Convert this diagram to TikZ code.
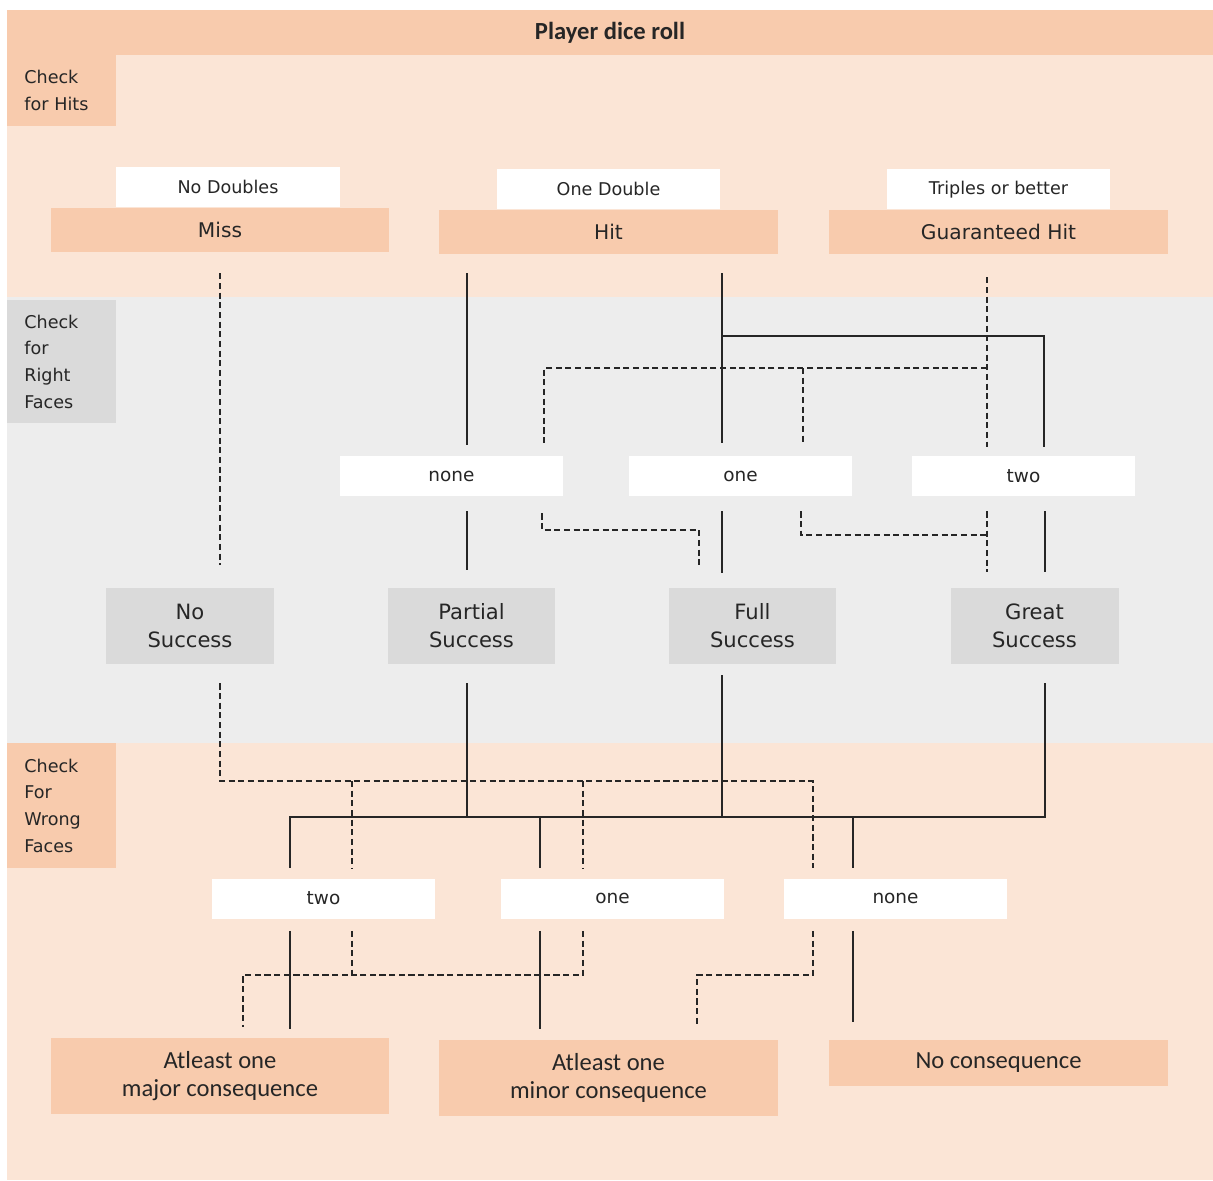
\documentclass[tikz,border=0pt]{standalone}
\usepackage{fontspec}
\setmainfont{DejaVu Sans}
\newfontfamily\calfont{Carlito}
\usetikzlibrary{positioning}

\definecolor{peachdark}{HTML}{F8CBAD}
\definecolor{peachlight}{HTML}{FBE5D6}
\definecolor{greylight}{HTML}{EDEDED}
\definecolor{greydark}{HTML}{DADADA}
\definecolor{inkgrey}{HTML}{262626}

\begin{document}
\begin{tikzpicture}
        [x=0.02cm,y=-0.02cm,text=inkgrey,
         resultbox/.style={fill=peachdark,minimum width=6.78cm,minimum height=0.88cm,inner sep=0pt,
           font=\fontsize{11.5}{14}\selectfont},
         tabbox/.style={fill=white,minimum width=4.47cm,minimum height=0.8cm,inner sep=0pt,
           font=\fontsize{10}{12}\selectfont},
         facebox/.style={fill=white,minimum width=4.46cm,minimum height=0.8cm,inner sep=0pt,
           font=\fontsize{10.5}{12}\selectfont},
         successbox/.style={fill=greydark,minimum width=3.36cm,minimum height=1.52cm,align=center,
           font=\fontsize{12}{16}\selectfont},
         consbox/.style={fill=peachdark,minimum width=6.78cm,align=center,
           font=\calfont\fontsize{14}{16}\selectfont},
         zonelabel/.style={anchor=north west,minimum width=2.18cm,text width=1.5cm,inner xsep=0.34cm,
           align=left,font=\fontsize{10}{15.3}\selectfont},
         hitline/.style={line width=0.8pt,draw=inkgrey},
         autoline/.style={hitline,dash pattern=on 3.5pt off 2pt}]
        \useasboundingbox (0,0) rectangle (1213,1180);
        \fill[white] (0,0) rectangle (1213,1180);

        \fill[peachlight] (7,55) rectangle (1213,297);
        \fill[greylight] (7,297) rectangle (1213,743);
        \fill[peachlight] (7,743) rectangle (1213,1180);

        \node[fill=peachdark,minimum width=24.12cm,minimum height=0.9cm,inner sep=0pt,
          font=\calfont\bfseries\fontsize{14}{16}\selectfont] (title) at (610,32.5) {Player dice roll};

        \node[zonelabel,fill=peachdark,minimum height=1.42cm] (hitszone) at (7,55) {Check\\for Hits};
        \node[zonelabel,fill=greydark,minimum height=2.46cm] (rightzone) at (7,300) {Check\\for\\Right\\Faces};
        \node[zonelabel,fill=peachdark,minimum height=2.5cm] (wrongzone) at (7,743) {Check\\For\\Wrong\\Faces};

        \node[resultbox] (miss) at (220,230) {Miss};
        \node[resultbox] (hit) at (608.5,232) {Hit};
        \node[resultbox] (ghit) at (998.5,232) {Guaranteed Hit};
        \node[tabbox,above=0pt of miss,xshift=0.16cm] (nodbl) {No Doubles};
        \node[tabbox,above=0pt of hit] (onedbl) {One Double};
        \node[tabbox,above=0pt of ghit] (triple) {Triples or better};

        \node[facebox] (none) at (451.5,476) {none};
        \node[facebox] (one) at (740.5,476) {one};
        \node[facebox] (two) at (1023.5,476) {two};

        \node[successbox] (nosucc) at (190,626) {No\\Success};
        \node[successbox] (partial) at (471.5,626) {Partial\\Success};
        \node[successbox] (full) at (752.5,626) {Full\\Success};
        \node[successbox] (great) at (1034.5,626) {Great\\Success};

        \node[facebox] (ltwo) at (323.5,898.5) {two};
        \node[facebox] (lone) at (612.5,898.5) {one};
        \node[facebox] (lnone) at (895.5,898.5) {none};

        \node[consbox,minimum height=1.52cm] (major) at (220,1076) {Atleast one\\major consequence};
        \node[consbox,minimum height=1.52cm] (minor) at (608.5,1078) {Atleast one\\minor consequence};
        \node[consbox,minimum height=0.92cm] (nocons) at (998.5,1063) {No consequence};

        % right faces
        \draw[autoline,shorten <=0.42cm,shorten >=0.46cm] (miss.south) -- (miss.south |- nosucc.north);
        \draw[hitline,shorten <=0.38cm,shorten >=0.22cm] (hit.south -| 467,0) -- (none.north -| 467,0);
        \draw[hitline,shorten <=0.38cm,shorten >=0.26cm] (hit.south -| 722,0) -- (one.north -| 722,0);
        \draw[hitline,shorten >=0.18cm] (722,336) -| (two.north -| 1044,0);
        \draw[autoline,shorten <=0.46cm,shorten >=0.18cm] (ghit.south -| 987,0) -- (two.north -| 987,0);
        \draw[autoline,shorten >=0.26cm] (987,368) -| (none.north -| 544,0);
        \draw[autoline,shorten >=0.26cm] (803,368) -- (one.north -| 803,0);

        \draw[hitline,shorten <=0.3cm,shorten >=0.36cm] (none.south -| 467,0) -- (partial.north -| 467,0);
        \draw[autoline,shorten <=0.34cm,shorten >=0.4cm] (none.south -| 542,0) |- (699,530) -- (full.north -| 699,0);
        \draw[hitline,shorten <=0.3cm,shorten >=0.3cm] (one.south -| 722,0) -- (full.north -| 722,0);
        \draw[autoline,shorten <=0.3cm] (one.south -| 801,0) |- (987,535);
        \draw[autoline,shorten <=0.3cm,shorten >=0.32cm] (two.south -| 987,0) -- (great.north -| 987,0);
        \draw[hitline,shorten <=0.3cm,shorten >=0.32cm] (two.south -| 1045,0) -- (great.north -| 1045,0);

        % wrong faces
        \draw[autoline,shorten <=0.38cm,shorten >=0.2cm] (nosucc.south -| 220,0) |- (813,781) -- (lnone.north -| 813,0);
        \draw[autoline,shorten >=0.2cm] (352,781) -- (ltwo.north -| 352,0);
        \draw[autoline,shorten >=0.2cm] (583,781) -- (lone.north -| 583,0);
        \draw[hitline,shorten <=0.38cm] (partial.south -| 467,0) -- (467,817);
        \draw[hitline,shorten <=0.22cm] (full.south -| 722,0) -- (722,817);
        \draw[hitline,shorten <=0.38cm,shorten >=0.2cm] (great.south -| 1045,0) |- (290,817) -- (ltwo.north -| 290,0);
        \draw[hitline,shorten >=0.2cm] (540,817) -- (lone.north -| 540,0);
        \draw[hitline,shorten >=0.2cm] (853,817) -- (lnone.north -| 853,0);

        \draw[hitline,shorten <=0.24cm,shorten >=0.18cm] (ltwo.south -| 290,0) -- (major.north -| 290,0);
        \draw[autoline,shorten <=0.24cm,shorten >=0.22cm] (ltwo.south -| 352,0) |- (243,975) -- (major.north -| 243,0);
        \draw[autoline,shorten <=0.24cm] (lone.south -| 583,0) |- (352,975);
        \draw[hitline,shorten <=0.24cm,shorten >=0.22cm] (lone.south -| 540,0) -- (minor.north -| 540,0);
        \draw[autoline,shorten <=0.24cm,shorten >=0.26cm] (lnone.south -| 813,0) |- (697,975) -- (minor.north -| 697,0);
        \draw[hitline,shorten <=0.24cm,shorten >=0.36cm] (lnone.south -| 853,0) -- (nocons.north -| 853,0);
      \end{tikzpicture}
\end{document}
